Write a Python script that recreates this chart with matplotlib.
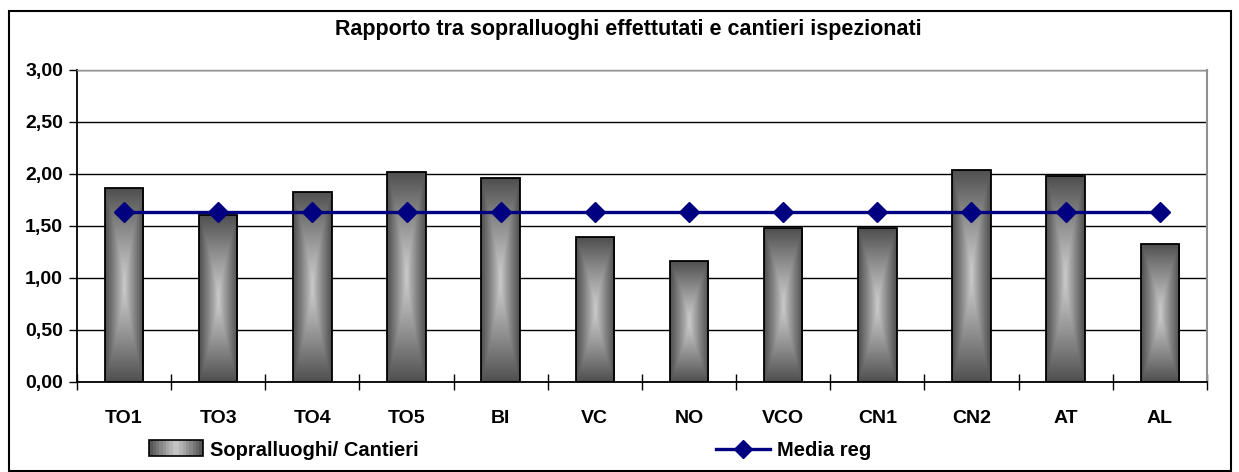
import numpy as np
import matplotlib.pyplot as plt
from matplotlib.patches import Rectangle
from matplotlib.legend_handler import HandlerBase
from matplotlib.lines import Line2D

plt.rcParams['font.family'] = ['Liberation Sans', 'DejaVu Sans']

# dati
categorie = ["TO1", "TO3", "TO4", "TO5", "BI", "VC", "NO", "VCO", "CN1", "CN2", "AT", "AL"]
rapporto = [1.86, 1.60, 1.83, 2.02, 1.96, 1.39, 1.16, 1.48, 1.48, 2.04, 1.98, 1.33]
media_reg = [1.635] * len(categorie)
yticks = [0.0, 0.5, 1.0, 1.5, 2.0, 2.5, 3.0]

titolo = "Rapporto tra sopralluoghi effettutati e cantieri ispezionati"
dark, light = np.array([0.31, 0.31, 0.31]), np.array([0.80, 0.80, 0.80])


def gradiente(nx=40, ny=120):
    u = np.linspace(-1, 1, nx)
    v = np.linspace(-1, 1, ny)
    U, V = np.meshgrid(u, v)
    t = np.clip(np.maximum(np.abs(U), np.abs(V) ** 1.3), 0, 1) ** 0.9
    return light + (dark - light) * t[..., None]


class HandlerGradiente(HandlerBase):
    def create_artists(self, legend, orig, xd, yd, w, h, fontsize, trans):
        arts = []
        n = 16
        for i in range(n):
            t = abs((i + 0.5) / n * 2 - 1)
            c = light + (dark - light) * t
            arts.append(Rectangle((xd + w * i / n, yd), w / n, h, facecolor=c,
                                  edgecolor='none', transform=trans))
        arts.append(Rectangle((xd, yd), w, h, facecolor='none', edgecolor='black',
                              lw=1.2, transform=trans))
        return arts


fig = plt.figure(figsize=(12.39, 4.72), dpi=100)
ax = fig.add_axes([0.0621, 0.191, 0.912, 0.661])

x = np.arange(len(categorie))
bars = ax.bar(x, rapporto, width=0.41, facecolor='none', edgecolor='black',
              linewidth=1.3, zorder=3)
img = gradiente()
for b in bars:
    bx, by = b.get_x(), b.get_y()
    im = ax.imshow(img, extent=[bx, bx + b.get_width(), by, by + b.get_height()],
                   aspect='auto', zorder=2, interpolation='bilinear')
    im.set_clip_path(b)

ax.plot(x, media_reg, color='#000080', lw=2.4, marker='D', markersize=10.5, zorder=4)

ax.set_xlim(-0.5, len(categorie) - 0.5)
ax.set_ylim(0, 3.0)
ax.set_yticks(yticks)
ax.set_yticklabels([f"{v:.2f}".replace('.', ',') for v in yticks],
                   fontsize=14, fontweight='bold')
ax.set_xticks(x)
ax.set_xticklabels(categorie, fontsize=14, fontweight='bold')
ax.set_xticks(np.arange(-0.5, len(categorie)), minor=True)
ax.tick_params(axis='x', which='major', length=0, pad=20)
ax.tick_params(axis='x', which='minor', length=11, direction='inout', width=1)
ax.tick_params(axis='y', length=6, width=1, pad=4)
ax.grid(axis='y', color='black', lw=1, zorder=1)
ax.set_axisbelow(True)
for s in ['left', 'bottom']:
    ax.spines[s].set_color('black')
    ax.spines[s].set_linewidth(1.3)
ax.spines['right'].set_color('#909090')
ax.spines['top'].set_color('#909090')
ax.spines['top'].set_linewidth(1.0)
ax.spines['right'].set_linewidth(1.5)

fig.text(0.507, 0.937, titolo, ha='center', va='center', fontsize=15.5, fontweight='bold')

handles = [Rectangle((0, 0), 1, 1), Line2D([], [], color='#000080', lw=2.4, marker='D', markersize=9)]
fig.legend(handles, ["Sopralluoghi/ Cantieri", "Media reg"], loc='center',
           bbox_to_anchor=(0.4117, 0.045), ncol=2, frameon=False, columnspacing=14.8,
           handlelength=2.65, handleheight=0.8, handletextpad=0.35,
           prop={'size': 14.5, 'weight': 'bold'},
           handler_map={Rectangle: HandlerGradiente()})

fig.add_artist(Rectangle((9 / 1239, 1 / 472), 1222 / 1239, 460 / 472, transform=fig.transFigure,
                         facecolor='none', edgecolor='black', lw=1.5))

fig.savefig("out.png", dpi=100)
